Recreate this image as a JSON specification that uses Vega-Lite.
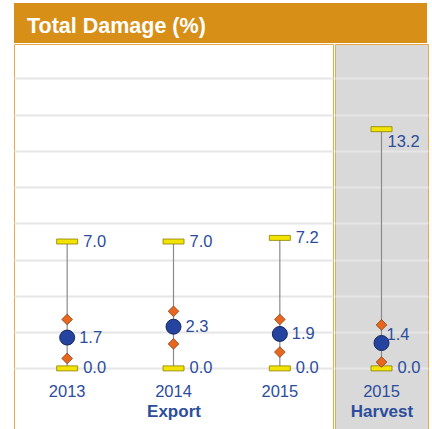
{
  "$schema": "https://vega.github.io/schema/vega-lite/v6.json",
  "background": "white",
  "padding": {"left": 13, "top": 3, "right": 6, "bottom": 0},
  "spacing": 0,
  "datasets": {
    "export": [
      {"year": "2013", "min": 0.0, "max": 7.0, "mean": 1.7, "lo": 0.55, "hi": 2.7},
      {"year": "2014", "min": 0.0, "max": 7.0, "mean": 2.3, "lo": 1.35, "hi": 3.15},
      {"year": "2015", "min": 0.0, "max": 7.2, "mean": 1.9, "lo": 0.9, "hi": 2.7}
    ],
    "harvest": [
      {"year": "2015", "min": 0.0, "max": 13.2, "mean": 1.4, "lo": 0.35, "hi": 2.4}
    ]
  },
  "vconcat": [
    {
      "width": 413,
      "height": 40,
      "view": {"fill": "#d78f17", "stroke": null},
      "data": {"values": [{"t": "Total Damage (%)"}]},
      "mark": {"type": "text", "align": "left", "baseline": "alphabetic", "font": "Liberation Sans", "fontWeight": "bold", "fontSize": 21.5, "color": "white"},
      "encoding": {"text": {"field": "t"}, "x": {"value": 13}, "y": {"value": 30}}
    },
    {
      "spacing": 0,
      "hconcat": [
        {
          "width": 319,
          "height": 386,
          "view": {"fill": "white", "stroke": "#eaa84a"},
          "data": {"name": "export"},
          "encoding": {
            "x": {"field": "year", "type": "nominal", "title": "Export",
              "axis": {"offset": -61, "labelAngle": 0, "ticks": false, "domain": false, "grid": false, "labelPadding": 14, "titlePadding": 4}}
          },
          "layer": [
            {"mark": {"type": "rule", "color": "#8a8a8a", "strokeWidth": 1.2},
             "encoding": {
               "y": {"field": "min", "type": "quantitative", "title": null, "scale": {"domain": [-3.4, 17.9], "nice": false, "zero": false},
                 "axis": {"values": [0, 2, 4, 6, 8, 10, 12, 14, 16], "labels": false, "ticks": false, "domain": false, "grid": true, "title": null}},
               "y2": {"field": "max"}}},
            {"transform": [{"fold": ["min", "max"], "as": ["k", "v"]}],
             "mark": {"type": "tick", "orient": "horizontal", "thickness": 5, "size": 21, "color": "#f3e300", "stroke": "#8a8000", "strokeWidth": 0.8, "opacity": 1},
             "encoding": {"y": {"field": "v", "type": "quantitative", "title": null,
                 "axis": {"values": [0, 2, 4, 6, 8, 10, 12, 14, 16], "labels": false, "ticks": false, "domain": false, "grid": true, "title": null}}}},
            {"transform": [{"fold": ["lo", "hi"], "as": ["k", "v"]}],
             "mark": {"type": "point", "shape": "diamond", "filled": true, "fill": "#e8671e", "stroke": "#7a3510", "strokeWidth": 0.7, "size": 115, "opacity": 1},
             "encoding": {"y": {"field": "v", "type": "quantitative", "title": null,
                 "axis": {"values": [0, 2, 4, 6, 8, 10, 12, 14, 16], "labels": false, "ticks": false, "domain": false, "grid": true, "title": null}}}},
            {"mark": {"type": "circle", "size": 225, "fill": "#2444a0", "stroke": "#16275c", "strokeWidth": 1, "opacity": 1},
             "encoding": {"y": {"field": "mean", "type": "quantitative", "title": null,
                 "axis": {"values": [0, 2, 4, 6, 8, 10, 12, 14, 16], "labels": false, "ticks": false, "domain": false, "grid": true, "title": null}}}},
            {"mark": {"type": "text", "align": "left", "baseline": "middle", "dx": 16, "fontSize": 16.5, "font": "Liberation Sans", "color": "#2c4d9c"},
             "encoding": {"y": {"field": "max", "type": "quantitative", "title": null,
                 "axis": {"values": [0, 2, 4, 6, 8, 10, 12, 14, 16], "labels": false, "ticks": false, "domain": false, "grid": true, "title": null}}, "text": {"field": "max", "format": ".1f"}}},
            {"mark": {"type": "text", "align": "left", "baseline": "middle", "dx": 12, "fontSize": 16.5, "font": "Liberation Sans", "color": "#2c4d9c"},
             "encoding": {"y": {"field": "mean", "type": "quantitative", "title": null,
                 "axis": {"values": [0, 2, 4, 6, 8, 10, 12, 14, 16], "labels": false, "ticks": false, "domain": false, "grid": true, "title": null}}, "text": {"field": "mean", "format": ".1f"}}},
            {"mark": {"type": "text", "align": "left", "baseline": "middle", "dx": 16, "fontSize": 16.5, "font": "Liberation Sans", "color": "#2c4d9c"},
             "encoding": {"y": {"field": "min", "type": "quantitative", "title": null,
                 "axis": {"values": [0, 2, 4, 6, 8, 10, 12, 14, 16], "labels": false, "ticks": false, "domain": false, "grid": true, "title": null}}, "text": {"field": "min", "format": ".1f"}}}
          ]
        },
        {
          "width": 93,
          "height": 386,
          "view": {"fill": "#d9d9d9", "stroke": "#eaa84a"},
          "data": {"name": "harvest"},
          "encoding": {
            "x": {"field": "year", "type": "nominal", "title": "Harvest",
              "axis": {"offset": -61, "labelAngle": 0, "ticks": false, "domain": false, "grid": false, "labelPadding": 14, "titlePadding": 4}}
          },
          "layer": [
            {"mark": {"type": "rule", "color": "#8a8a8a", "strokeWidth": 1.2},
             "encoding": {
               "y": {"field": "min", "type": "quantitative", "title": null, "scale": {"domain": [-3.4, 17.9], "nice": false, "zero": false},
                 "axis": {"values": [0, 2, 4, 6, 8, 10, 12, 14, 16], "labels": false, "ticks": false, "domain": false, "grid": true, "title": null}},
               "y2": {"field": "max"}}},
            {"transform": [{"fold": ["min", "max"], "as": ["k", "v"]}],
             "mark": {"type": "tick", "orient": "horizontal", "thickness": 5, "size": 21, "color": "#f3e300", "stroke": "#8a8000", "strokeWidth": 0.8, "opacity": 1},
             "encoding": {"y": {"field": "v", "type": "quantitative", "title": null,
                 "axis": {"values": [0, 2, 4, 6, 8, 10, 12, 14, 16], "labels": false, "ticks": false, "domain": false, "grid": true, "title": null}}}},
            {"transform": [{"fold": ["lo", "hi"], "as": ["k", "v"]}],
             "mark": {"type": "point", "shape": "diamond", "filled": true, "fill": "#e8671e", "stroke": "#7a3510", "strokeWidth": 0.7, "size": 115, "opacity": 1},
             "encoding": {"y": {"field": "v", "type": "quantitative", "title": null,
                 "axis": {"values": [0, 2, 4, 6, 8, 10, 12, 14, 16], "labels": false, "ticks": false, "domain": false, "grid": true, "title": null}}}},
            {"mark": {"type": "circle", "size": 225, "fill": "#2444a0", "stroke": "#16275c", "strokeWidth": 1, "opacity": 1},
             "encoding": {"y": {"field": "mean", "type": "quantitative", "title": null,
                 "axis": {"values": [0, 2, 4, 6, 8, 10, 12, 14, 16], "labels": false, "ticks": false, "domain": false, "grid": true, "title": null}}}},
            {"mark": {"type": "text", "align": "left", "baseline": "middle", "dx": 6, "dy": 13, "fontSize": 16.5, "font": "Liberation Sans", "color": "#2c4d9c"},
             "encoding": {"y": {"field": "max", "type": "quantitative", "title": null,
                 "axis": {"values": [0, 2, 4, 6, 8, 10, 12, 14, 16], "labels": false, "ticks": false, "domain": false, "grid": true, "title": null}}, "text": {"field": "max", "format": ".1f"}}},
            {"mark": {"type": "text", "align": "left", "baseline": "middle", "dx": 5, "dy": -8, "fontSize": 16.5, "font": "Liberation Sans", "color": "#2c4d9c"},
             "encoding": {"y": {"field": "mean", "type": "quantitative", "title": null,
                 "axis": {"values": [0, 2, 4, 6, 8, 10, 12, 14, 16], "labels": false, "ticks": false, "domain": false, "grid": true, "title": null}}, "text": {"field": "mean", "format": ".1f"}}},
            {"mark": {"type": "text", "align": "left", "baseline": "middle", "dx": 16, "fontSize": 16.5, "font": "Liberation Sans", "color": "#2c4d9c"},
             "encoding": {"y": {"field": "min", "type": "quantitative", "title": null,
                 "axis": {"values": [0, 2, 4, 6, 8, 10, 12, 14, 16], "labels": false, "ticks": false, "domain": false, "grid": true, "title": null}}, "text": {"field": "min", "format": ".1f"}}}
          ]
        }
      ]
    }
  ],
  "config": {
    "axisY": {"gridColor": "#e6e6e6", "gridWidth": 2, "gridOpacity": 1},
    "axisX": {"labelFont": "Liberation Sans", "labelFontSize": 16.5, "labelColor": "#2c4d9c", "titleFont": "Liberation Sans", "titleFontSize": 17, "titleFontWeight": "bold", "titleColor": "#2c4d9c"}
  }
}
